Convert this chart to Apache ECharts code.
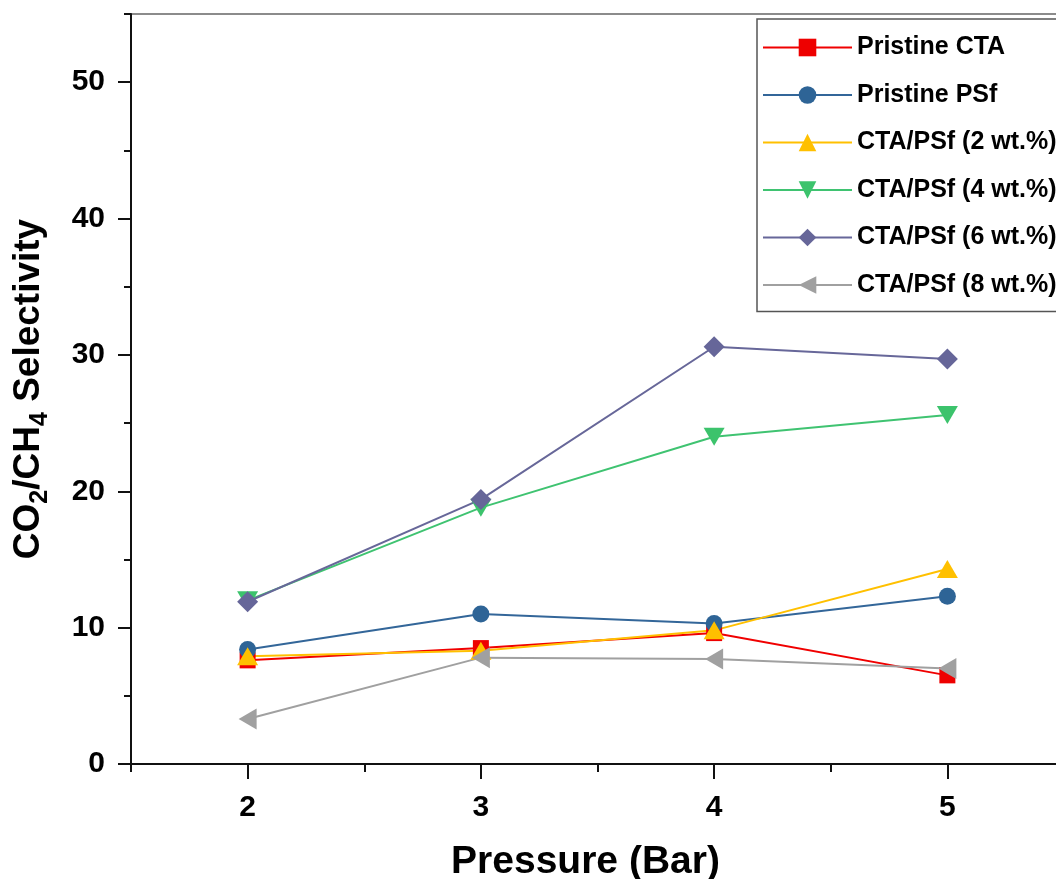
<!DOCTYPE html>
<html>
<head>
<meta charset="utf-8">
<script src="https://cdn.jsdelivr.net/npm/echarts@6/dist/echarts.min.js"></script>
<style>
  html, body { margin: 0; padding: 0; background: #fff; }
  #chart { width: 1056px; height: 879px; }
</style>
</head>
<body>
<div id="chart"></div>
<script>
// pressure (bar) on x
const pressures = [2, 3, 4, 5];

// CO2/CH4 selectivity
const pristineCTA = [7.6, 8.5, 9.6, 6.5];
const pristinePSf = [8.4, 11.0, 10.3, 12.3];
const blend2 = [7.9, 8.3, 9.8, 14.3];
const blend4 = [12.0, 18.8, 24.0, 25.6];
const blend6 = [11.9, 19.4, 30.6, 29.7];
const blend8 = [3.3, 7.8, 7.7, 7.0];

const seriesNames = ['Pristine CTA', 'Pristine PSf', 'CTA/PSf (2 wt.%)', 'CTA/PSf (4 wt.%)', 'CTA/PSf (6 wt.%)', 'CTA/PSf (8 wt.%)'];

// ticks
const xMajor = [2, 3, 4, 5];
const xMinor = [1.5, 2.5, 3.5, 4.5, 5.5];
const yMajor = [0, 10, 20, 30, 40, 50];
const yMinor = [5, 15, 25, 35, 45, 55];

const FONT = 'Liberation Sans, Arial, sans-serif';

function pts(ys) {
  return pressures.map((x, i) => [x, ys[i]]);
}

let chart = echarts.init(document.getElementById('chart'));

let option = {
  animation: false,
  backgroundColor: '#fff',
  grid: {
    left: 131,
    right: -8,    // plot runs past the right edge like the original
    top: 14,
    bottom: 115,
    outerBoundsMode: 'none',
    show: true,
    borderColor: '#666',
    borderWidth: 1.5,
    backgroundColor: 'transparent'
  },
  legend: {
    orient: 'vertical',
    left: 757,
    top: 19,
    padding: [16, 40, 14, 5],
    itemWidth: 89,
    itemHeight: 22,
    itemGap: 22.5,
    backgroundColor: '#fff',
    borderColor: '#555',
    borderWidth: 1.5,
    borderRadius: 0,
    textStyle: { fontSize: 25, fontWeight: 'bold', color: '#000', fontFamily: FONT, lineHeight: 20 },
    data: seriesNames
  },
  xAxis: [
    {
      type: 'value',
      min: 1.5,
      max: 5.5,
      position: 'bottom',
      name: 'Pressure (Bar)',
      nameLocation: 'middle',
      nameGap: 79,
      nameTextStyle: { fontSize: 39, fontWeight: 'bold', color: '#000', fontFamily: FONT, padding: [0, 24, 0, 0] },
      axisLine: { show: true, lineStyle: { color: '#111', width: 2 } },
      axisTick: { show: true, customValues: xMajor, length: 15, lineStyle: { color: '#111', width: 2 } },
      axisLabel: { customValues: xMajor, margin: 29, fontSize: 30, fontWeight: 'bold', color: '#000', fontFamily: FONT },
      splitLine: { show: false }
    },
    {
      type: 'value',
      min: 1.5,
      max: 5.5,
      position: 'bottom',
      axisLine: { show: false },
      axisTick: { show: true, customValues: xMinor, length: 8, lineStyle: { color: '#111', width: 2 } },
      axisLabel: { show: false },
      splitLine: { show: false }
    }
  ],
  yAxis: [
    {
      type: 'value',
      min: 0,
      max: 55,
      position: 'left',
      name: '{n|CO}{s|2}{n|/CH}{s|4}{n| Selectivity}',
      nameLocation: 'middle',
      nameGap: 84,
      nameTextStyle: {
        rich: {
          n: { fontSize: 37, fontWeight: 'bold', color: '#000', fontFamily: FONT, lineHeight: 37, verticalAlign: 'top' },
          s: { fontSize: 25, fontWeight: 'bold', color: '#000', fontFamily: FONT, lineHeight: 25, verticalAlign: 'top', padding: [18, 0, 0, 0] }
        }
      },
      axisLine: { show: true, lineStyle: { color: '#111', width: 2 } },
      axisTick: { show: true, customValues: yMajor, length: 13, lineStyle: { color: '#111', width: 2 } },
      axisLabel: { customValues: yMajor, margin: 26, fontSize: 30, fontWeight: 'bold', color: '#000', fontFamily: FONT },
      splitLine: { show: false }
    },
    {
      type: 'value',
      min: 0,
      max: 55,
      position: 'left',
      axisLine: { show: false },
      axisTick: { show: true, customValues: yMinor, length: 7, lineStyle: { color: '#111', width: 2 } },
      axisLabel: { show: false },
      splitLine: { show: false }
    }
  ],
  series: [
    {
      name: seriesNames[0], type: 'line', data: pts(pristineCTA),
      symbol: 'rect', symbolSize: 16,
      lineStyle: { color: '#f00000', width: 2 }, itemStyle: { color: '#ee0000' }
    },
    {
      name: seriesNames[1], type: 'line', data: pts(pristinePSf),
      symbol: 'circle', symbolSize: 17,
      lineStyle: { color: '#336699', width: 2 }, itemStyle: { color: '#2e6496' }
    },
    {
      name: seriesNames[2], type: 'line', data: pts(blend2),
      symbol: 'triangle', symbolSize: [21, 18],
      lineStyle: { color: '#ffc000', width: 2 }, itemStyle: { color: '#ffc000' }
    },
    {
      name: seriesNames[3], type: 'line', data: pts(blend4),
      symbol: 'path://M0,0L20,0L10,17Z', symbolSize: [21, 18],
      lineStyle: { color: '#3fc371', width: 2 }, itemStyle: { color: '#3cc36c' }
    },
    {
      name: seriesNames[4], type: 'line', data: pts(blend6),
      symbol: 'diamond', symbolSize: 21,
      lineStyle: { color: '#676799', width: 2 }, itemStyle: { color: '#666699' }
    },
    {
      name: seriesNames[5], type: 'line', data: pts(blend8),
      symbol: 'path://M0,10L17,0L17,20Z', symbolSize: [18, 21],
      lineStyle: { color: '#a0a0a0', width: 2 }, itemStyle: { color: '#a0a0a0' }
    }
  ]
};

chart.setOption(option);
</script>
</body>
</html>
